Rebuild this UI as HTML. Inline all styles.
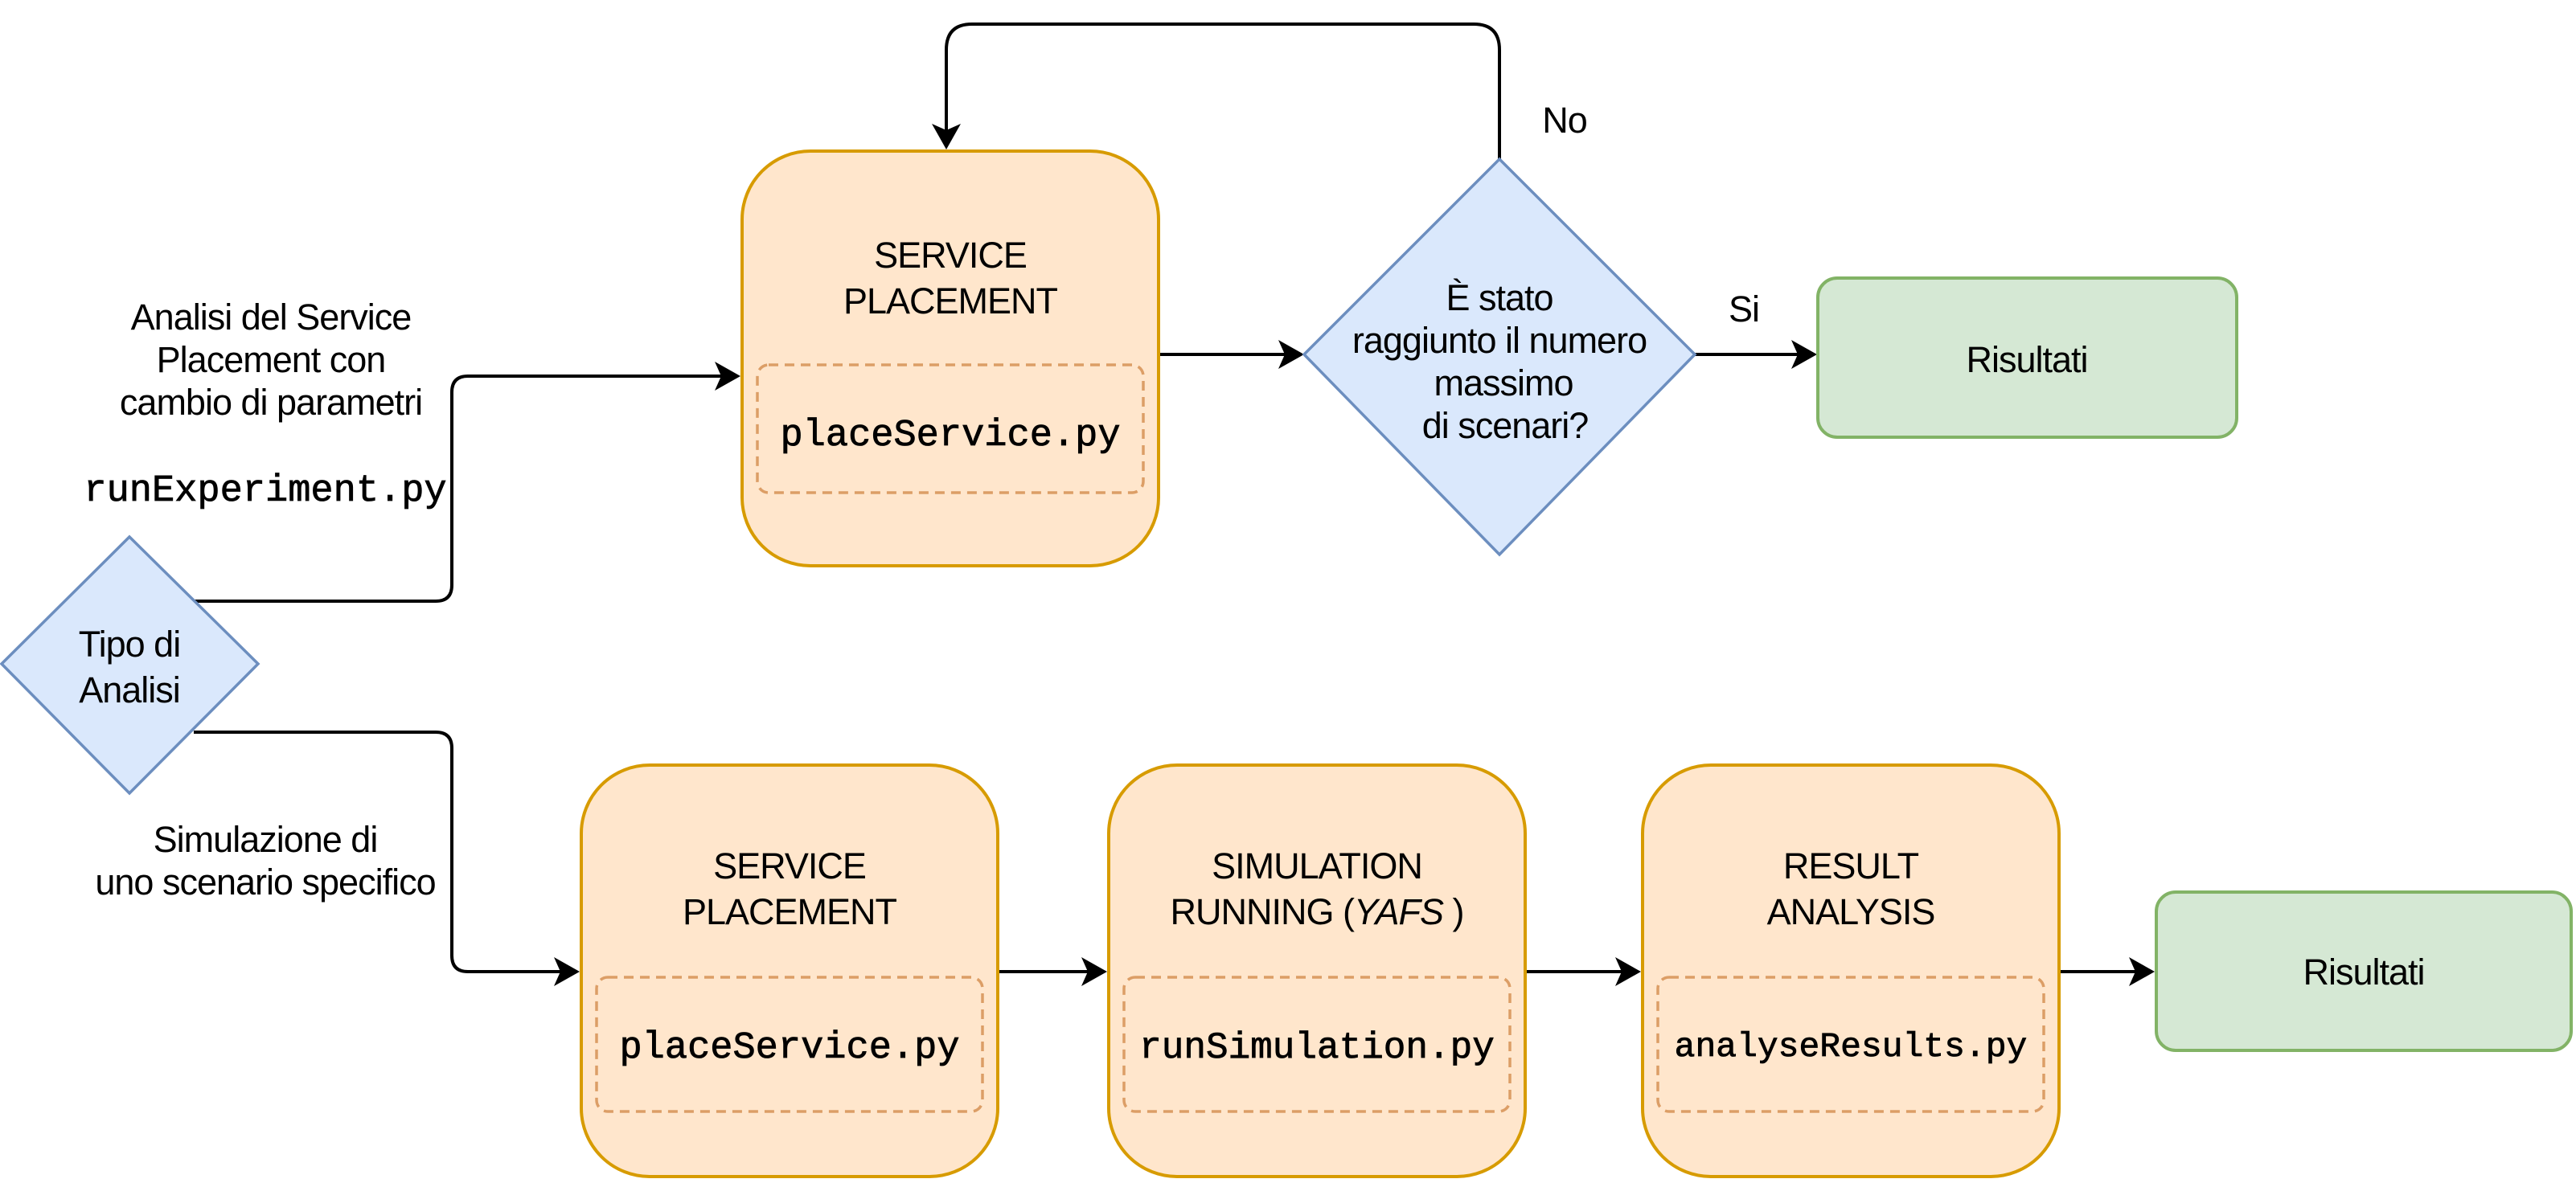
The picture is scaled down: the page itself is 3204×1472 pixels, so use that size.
<!DOCTYPE html>
<html><head><meta charset="utf-8"><style>
html,body{margin:0;padding:0;background:#fff}
svg{display:block}
.t{font-family:"Liberation Sans",sans-serif;font-size:45px;fill:#000;text-anchor:middle;letter-spacing:-1px}
.m{font-family:"Liberation Mono",monospace;font-size:47px;fill:#000;text-anchor:middle;stroke:#000;stroke-width:0.8}
.c{fill:none;stroke:#000;stroke-width:4}
</style></head><body>
<svg width="3204" height="1472" viewBox="0 0 3204 1472" xmlns="http://www.w3.org/2000/svg">
<!-- connectors -->
<path class="c" d="M241 748 H542 Q562 748 562 728 V488 Q562 468 582 468 H900"/>
<polygon points="921,468 889,450 897,468 889,486"/>
<path class="c" d="M241 911 H542 Q562 911 562 931 V1189 Q562 1209 582 1209 H700"/>
<polygon points="721,1209 689,1191 697,1209 689,1227"/>
<path class="c" d="M1442 441 H1600"/>
<polygon points="1622,441 1590,423 1598,441 1590,459"/>
<path class="c" d="M2108 441 H2240"/>
<polygon points="2260,441 2228,423 2236,441 2228,459"/>
<path class="c" d="M1865 198 V62 Q1865 30 1833 30 H1209 Q1177 30 1177 62 V165"/>
<polygon points="1177,186 1159,154 1177,162 1195,154"/>
<path class="c" d="M1242 1209 H1356"/>
<polygon points="1377,1209 1345,1191 1353,1209 1345,1227"/>
<path class="c" d="M1898 1209 H2020"/>
<polygon points="2041,1209 2009,1191 2017,1209 2009,1227"/>
<path class="c" d="M2562 1209 H2660"/>
<polygon points="2680,1209 2648,1191 2656,1209 2648,1227"/>

<!-- top box -->
<rect x="923" y="188" width="518" height="516" rx="85" ry="85" fill="#ffe6cc" stroke="#d79b00" stroke-width="4"/>
<rect x="942" y="454" width="480" height="159" rx="14" fill="none" stroke="#dc9e66" stroke-width="3.5" stroke-dasharray="12,8"/>
<text class="t" x="1182" y="333">SERVICE</text>
<text class="t" x="1182" y="390">PLACEMENT</text>
<text class="m" x="1182" y="554">placeService.py</text>

<!-- decision -->
<polygon points="1865,198 2108,441 1865,690 1622,441" fill="#dae8fc" stroke="#6c8ebf" stroke-width="3.5"/>
<text class="t" x="1865" y="386">È stato</text>
<text class="t" x="1865" y="439">raggiunto il numero</text>
<text class="t" x="1870" y="492">massimo</text>
<text class="t" x="1872" y="545">di scenari?</text>
<text class="t" x="1946" y="165">No</text>
<text class="t" x="2169" y="400">Si</text>

<!-- results top -->
<rect x="2261" y="346" width="521" height="198" rx="24" fill="#d5e8d4" stroke="#82b366" stroke-width="4"/>
<text class="t" x="2521" y="463">Risultati</text>

<!-- left diamond -->
<polygon points="161,668 321,826 161,987 2,826" fill="#dae8fc" stroke="#6c8ebf" stroke-width="3.5"/>
<text class="t" x="161" y="817">Tipo di</text>
<text class="t" x="161" y="874">Analisi</text>

<text class="t" x="337" y="410">Analisi del Service</text>
<text class="t" x="337" y="463">Placement con</text>
<text class="t" x="337" y="516">cambio di parametri</text>
<text class="m" x="330" y="623">runExperiment.py</text>
<text class="t" x="330" y="1060">Simulazione di</text>
<text class="t" x="330" y="1113">uno scenario specifico</text>

<!-- bottom boxes -->
<rect x="723" y="952" width="518" height="512" rx="85" fill="#ffe6cc" stroke="#d79b00" stroke-width="4"/>
<rect x="742" y="1216" width="480" height="167" rx="14" fill="none" stroke="#dc9e66" stroke-width="3.5" stroke-dasharray="12,8"/>
<text class="t" x="982" y="1093">SERVICE</text>
<text class="t" x="982" y="1150">PLACEMENT</text>
<text class="m" x="982" y="1316">placeService.py</text>

<rect x="1379" y="952" width="518" height="512" rx="85" fill="#ffe6cc" stroke="#d79b00" stroke-width="4"/>
<rect x="1398" y="1216" width="480" height="167" rx="14" fill="none" stroke="#dc9e66" stroke-width="3.5" stroke-dasharray="12,8"/>
<text class="t" x="1638" y="1093">SIMULATION</text>
<text class="t" x="1638" y="1150">RUNNING (<tspan font-style="italic">YAFS</tspan> )</text>
<text class="m" x="1638" y="1316" style="font-size:46px">runSimulation.py</text>

<rect x="2043" y="952" width="518" height="512" rx="85" fill="#ffe6cc" stroke="#d79b00" stroke-width="4"/>
<rect x="2062" y="1216" width="480" height="167" rx="14" fill="none" stroke="#dc9e66" stroke-width="3.5" stroke-dasharray="12,8"/>
<text class="t" x="2302" y="1093">RESULT</text>
<text class="t" x="2302" y="1150">ANALYSIS</text>
<text class="m" x="2302" y="1314" style="font-size:43px">analyseResults.py</text>

<rect x="2682" y="1110" width="516" height="197" rx="24" fill="#d5e8d4" stroke="#82b366" stroke-width="4"/>
<text class="t" x="2940" y="1225">Risultati</text>
</svg>
</body></html>
